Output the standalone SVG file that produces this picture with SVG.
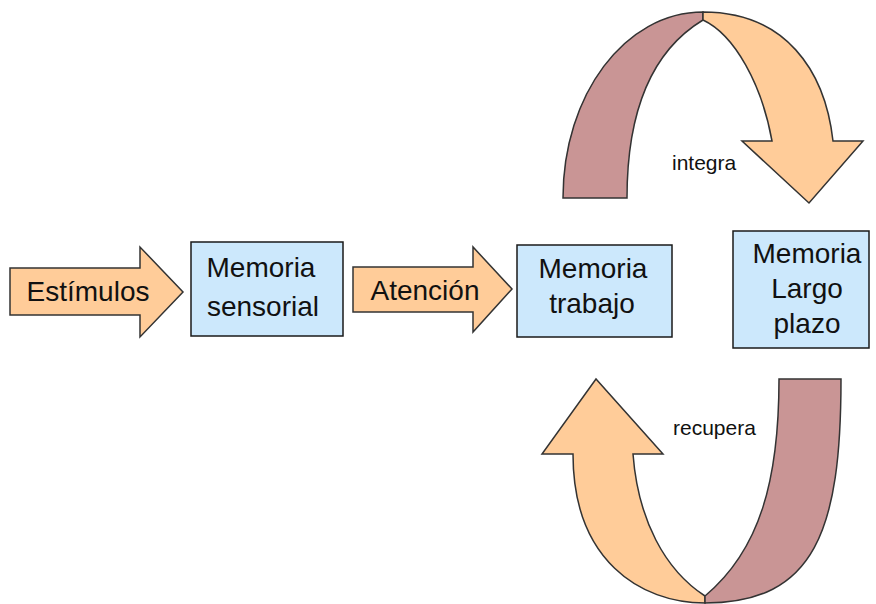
<svg xmlns="http://www.w3.org/2000/svg" width="876" height="604" viewBox="0 0 876 604">
<style>
.box{fill:#CCE8FC;stroke:#1a1a1a;stroke-width:1.5}
.peach{fill:#FFCC99;stroke:#333333;stroke-width:1.5;stroke-linejoin:miter}
.mauve{fill:#C99595;stroke:#333333;stroke-width:1.5}
.t{font-family:"Liberation Sans",Arial,sans-serif;font-size:28px;fill:#111111;text-anchor:middle}
.s{font-family:"Liberation Sans",Arial,sans-serif;font-size:21px;fill:#111111}
</style>
<rect width="876" height="604" fill="#ffffff"/>
<g id="connectors">
  <g id="arrow-estimulos">
    <path class="peach" d="M10,268 L140,268 L140,247 L183,292 L140,337 L140,315 L10,315 Z"/>
    <text class="t" x="88" y="301">Estímulos</text>
  </g>
  <g id="arrow-atencion">
    <path class="peach" d="M353,267 L473,267 L473,247 L512,289 L473,332 L473,312 L353,312 Z"/>
    <text class="t" x="425" y="300">Atención</text>
  </g>
  <g id="arrow-integra">
    <path class="mauve" d="M563,198 C563,95 625,12 703,12 L703,20 C645,55 627,125 627,198 Z"/>
    <path class="peach" d="M703,12 C785,12 825,70 833,141 L863,141 L809,203 L742,141 L772,141 C762,85 735,35 703,20 Z"/>
    <text class="s" x="672" y="170">integra</text>
  </g>
  <g id="arrow-recupera">
    <path class="peach" d="M705,603 C640,603 573,560 573,454 L542,454 L596,379 L663,454 L633,454 C638,520 665,570 705,596 Z"/>
    <path class="mauve" d="M779,379 L841,379 C841,530 815,603 705,603 L705,596 C760,550 779,480 779,379 Z"/>
    <text class="s" x="673" y="435">recupera</text>
  </g>
</g>
<g id="node-sensorial">
  <rect class="box" x="191" y="242" width="152" height="94"/>
  <text class="t" x="261" y="277">Memoria</text>
  <text class="t" x="263" y="316">sensorial</text>
</g>
<g id="node-trabajo">
  <rect class="box" x="517" y="245" width="155" height="92"/>
  <text class="t" x="593" y="278">Memoria</text>
  <text class="t" x="592" y="313">trabajo</text>
</g>
<g id="node-largo">
  <rect class="box" x="733" y="231" width="136" height="117"/>
  <text class="t" x="807" y="263">Memoria</text>
  <text class="t" x="807" y="298">Largo</text>
  <text class="t" x="807" y="333">plazo</text>
</g>
</svg>
